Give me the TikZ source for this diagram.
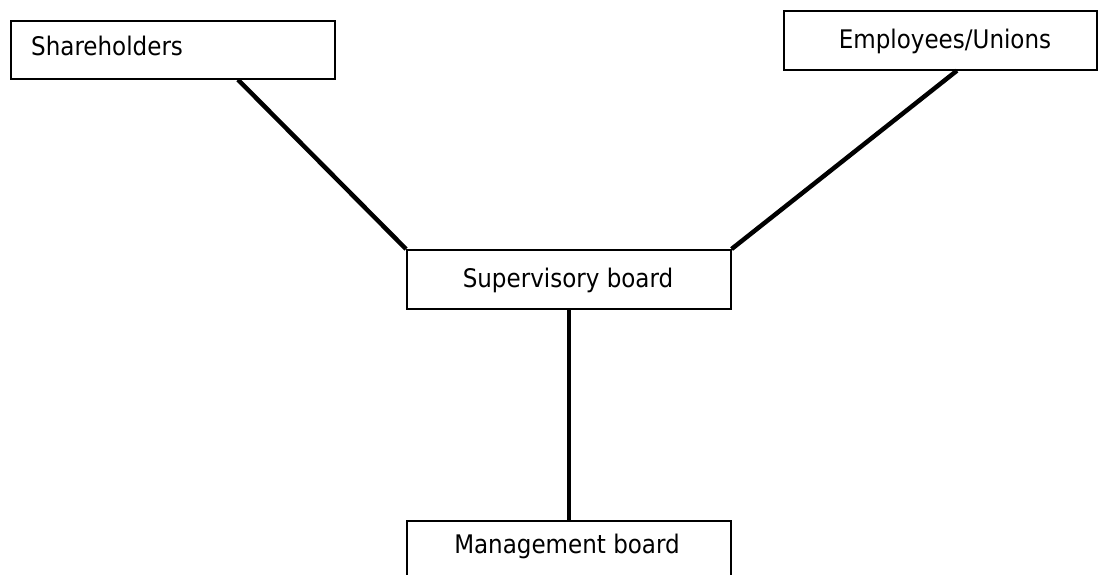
\documentclass[tikz,border=0pt]{standalone}
\usepackage{fontspec}
\setmainfont{DejaVu Sans Condensed}
\usetikzlibrary{calc}
\begin{document}
\begin{tikzpicture}[x=1pt,y=-1pt,
  box/.style={draw=black, line width=1.6pt, fill=white, inner sep=0pt,
    anchor=north west},
  lbl/.style={inner sep=0pt, font=\fontsize{25.6}{30}\selectfont},
  link/.style={line width=4.5pt, black}]
  \useasboundingbox (0,0) rectangle (1102,574);

  % organisation boxes
  \node[box, minimum width=324pt, minimum height=58pt] (sh) at (10,20) {};
  \node[box, minimum width=313pt, minimum height=59pt] (emp) at (783,10) {};
  \node[box, minimum width=324pt, minimum height=59pt] (sup) at (406,249) {};
  \node[box, minimum width=324pt, minimum height=62pt] (mgmt) at (406,520) {};

  % box captions
  \node[lbl, anchor=base west] (shT) at (31,55) {Shareholders};
  \node[lbl, anchor=base] (empT) at (945,48) {Employees/Unions};
  \node[lbl, anchor=base] (supT) at (568,287) {Supervisory board};
  \node[lbl, anchor=base] (mgmtT) at (567,553) {Management board};

  % connecting lines
  \draw[link] ($(sh.south west)!0.70!(sh.south east)$) -- (sup.north west);
  \draw[link] ($(emp.south west)!0.553!(emp.south east)$) -- (sup.north east);
  \draw[link] (sup.south) -- (mgmt.north);
\end{tikzpicture}
\end{document}
